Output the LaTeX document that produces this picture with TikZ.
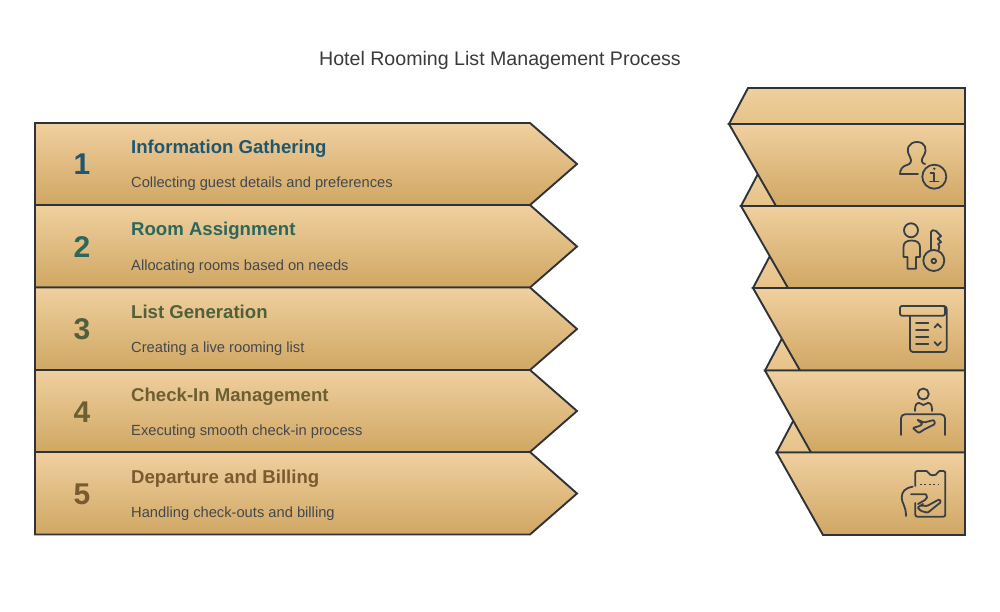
\documentclass[tikz,border=0pt]{standalone}
\usepackage{fontspec}
\setmainfont{Liberation Sans}
\usetikzlibrary{positioning}
\definecolor{tanlight}{HTML}{F0D09F}
\definecolor{tandark}{HTML}{D0A763}
\definecolor{backlight}{HTML}{EFCF9E}
\definecolor{backdark}{HTML}{E6C288}
\definecolor{edgeink}{HTML}{2E3338}
\definecolor{iconink}{HTML}{3A3F45}
\definecolor{textink}{HTML}{45484B}
\definecolor{titleink}{HTML}{3A3A3A}
\definecolor{stepa}{HTML}{20566E}
\definecolor{stepb}{HTML}{2D675C}
\definecolor{stepc}{HTML}{50603B}
\definecolor{stepd}{HTML}{6C6033}
\definecolor{stepe}{HTML}{7A5A30}
\tikzset{
  band/.style={draw=edgeink, line width=1.9pt, line join=miter, top color=tanlight, bottom color=tandark},
  backband/.style={draw=edgeink, line width=1.9pt, line join=miter, top color=backlight, bottom color=backdark},
  icon/.style={draw=iconink, line width=1.8pt, line join=round, line cap=round},
  numlabel/.style={inner sep=0pt, font=\bfseries\fontsize{30}{34}\selectfont},
  headlabel/.style={inner sep=0pt, anchor=west, text height=13pt, text depth=4pt, font=\bfseries\fontsize{18.6}{22}\selectfont},
  desclabel/.style={inner sep=0pt, anchor=west, text height=11pt, text depth=3pt, text=textink, font=\fontsize{14.7}{18}\selectfont}
}
\begin{document}
\begin{tikzpicture}[x=1pt,y=-1pt]
    \useasboundingbox (0,0) rectangle (1000,612);

    \node (title) [inner sep=0pt, text=titleink, font=\fontsize{19.6}{24}\selectfont] at (500,60.5) {Hotel Rooming List Management Process};

    % left column
    \draw[band] (35,123) -- (530,123) -- (577,164) -- (530,205) -- (35,205) -- cycle;
    \draw[band] (35,205) -- (530,205) -- (577,246.5) -- (530,287.5) -- (35,287.5) -- cycle;
    \draw[band] (35,287.5) -- (530,287.5) -- (577,329) -- (530,370) -- (35,370) -- cycle;
    \draw[band] (35,370) -- (530,370) -- (577,411) -- (530,452) -- (35,452) -- cycle;
    \draw[band] (35,452) -- (530,452) -- (577,493.5) -- (530,534.5) -- (35,534.5) -- cycle;

    \node (num1) [numlabel, text=stepa] at (82,164.5) {1};
    \node (num2) [numlabel, text=stepb] at (82,247) {2};
    \node (num3) [numlabel, text=stepc] at (82,329.5) {3};
    \node (num4) [numlabel, text=stepd] at (82,412) {4};
    \node (num5) [numlabel, text=stepe] at (82,494.5) {5};

    \node (head1) [headlabel, text=stepa] at (131,149) {Information Gathering};
    \node (head2) [headlabel, text=stepb] at (131,231.5) {Room Assignment};
    \node (head3) [headlabel, text=stepc] at (131,314) {List Generation};
    \node (head4) [headlabel, text=stepd] at (131,396.5) {Check-In Management};
    \node (head5) [headlabel, text=stepe] at (131,479) {Departure and Billing};

    \node (desc1) [desclabel, below=34.5pt of head1.west, anchor=west] {Collecting guest details and preferences};
    \node (desc2) [desclabel, below=34.5pt of head2.west, anchor=west] {Allocating rooms based on needs};
    \node (desc3) [desclabel, below=34.5pt of head3.west, anchor=west] {Creating a live rooming list};
    \node (desc4) [desclabel, below=34.5pt of head4.west, anchor=west] {Executing smooth check-in process};
    \node (desc5) [desclabel, below=34.5pt of head5.west, anchor=west] {Handling check-outs and billing};

    % right column, back pieces first
    \draw[backband] (729,124) -- (748,88) -- (965,88) -- (965,124) -- cycle;
    \draw[backband] (741,206) -- (760,170) -- (965,170) -- (965,206) -- cycle;
    \draw[backband] (753,288) -- (772,252) -- (965,252) -- (965,288) -- cycle;
    \draw[backband] (765,370.5) -- (784,334.5) -- (965,334.5) -- (965,370.5) -- cycle;
    \draw[backband] (776.5,452.5) -- (795.5,416.5) -- (965,416.5) -- (965,452.5) -- cycle;

    \draw[band] (729,124) -- (965,124) -- (965,206) -- (776,206) -- cycle;
    \draw[band] (741,206) -- (965,206) -- (965,288) -- (788,288) -- cycle;
    \draw[band] (753,288) -- (965,288) -- (965,370.5) -- (800,370.5) -- cycle;
    \draw[band] (765,370.5) -- (965,370.5) -- (965,452.5) -- (811,452.5) -- cycle;
    \draw[band] (776.5,452.5) -- (965,452.5) -- (965,535) -- (823,535) -- cycle;

    % guest with info mark
    \draw[icon] (918,174) -- (900,174) .. controls (900,169) and (903,166) .. (907,165) .. controls (911,164) and (912,161) .. (910,157) .. controls (905,149) and (909,142) .. (917,142) .. controls (925,142) and (928,149) .. (923.5,156) .. controls (921,160) and (921,163) .. (925,164);
    \draw[icon] (934.3,176.7) circle (12);
    \draw[icon] (930.5,173) -- (934.3,173) -- (934.3,181.5);
    \draw[icon] (930,181.5) -- (938.5,181.5);
    \fill[iconink] (934.3,168.7) circle (1.3);

    % guest with key
    \draw[icon] (911,230.3) circle (7);
    \draw[icon] (907.5,257) -- (903.5,257) -- (903.5,247) .. controls (903.5,243) and (906,240.5) .. (911.5,240.5) .. controls (917,240.5) and (920,243) .. (920,247) -- (920,257) -- (916,257) -- (916,268.7) -- (907.5,268.7) -- cycle;
    \draw[icon] (931,250) -- (931,232) .. controls (931,230) and (934,229.5) .. (936,231) -- (941,236) -- (937.7,238.7) -- (941,242) -- (938,244) -- (939.3,246) -- (938.5,250.5);
    \draw[icon] (933.8,260.5) circle (10.5);
    \draw[icon] (933.8,261) circle (2.3);

    % list with sort marks
    \draw[icon, rounded corners=2pt] (900,306) rectangle (945,315.7);
    \draw[icon, rounded corners=3pt] (910,315.7) -- (910,352) -- (946.7,352) -- (946.7,306) -- (940,306);
    \draw[icon] (916,323.3) -- (928.3,323.3);
    \draw[icon] (916,330) -- (928.3,330);
    \draw[icon] (916,336.7) -- (928.3,336.7);
    \draw[icon] (916,344) -- (928.3,344);
    \draw[icon] (934.5,327.5) -- (937.7,324) -- (941,327.5);
    \draw[icon] (934.5,342) -- (937.7,345.5) -- (941,342);

    % reception desk
    \draw[icon] (923.3,394) circle (5.5);
    \draw[icon] (915,411) .. controls (915,405) and (916,403) .. (919,403) .. controls (921,403) and (922,405) .. (923.3,405) .. controls (925,405) and (926,403) .. (928,403) .. controls (931,403) and (932,405) .. (932,411);
    \draw[icon, rounded corners=4pt] (901,435) -- (901,414.3) -- (945,414.3) -- (945,435);
    \draw[icon, rounded corners=1pt] (917,419.5) -- (924,422.5) -- (934,420) -- (935,424) -- (925,429) -- (918.7,433) -- (912.7,428) -- (919.5,426) -- (922.5,424) -- cycle;

    % ticket held in hand
    \draw[icon, rounded corners=2pt] (915.3,486) -- (915.3,471) -- (928.5,471) .. controls (929,476) and (937,476) .. (937.5,471) -- (945.3,471) -- (945.3,516.7) -- (915.3,516.7) -- (915.3,503);
    \draw[icon, dash pattern=on 1.8pt off 2.6pt, line cap=butt] (920,484.5) -- (940,484.5);
    \draw[icon] (912.7,486.7) .. controls (905,488) and (901.7,491.5) .. (901.7,497.7) .. controls (901.7,503) and (906,506) .. (906,516);
    \draw[icon] (911,494.3) -- (926,494.3) .. controls (928,496) and (927,499) .. (925,500) -- (918,504);
    \draw[icon, rounded corners=1pt] (920,505.5) -- (927,506) -- (939.3,499.3) -- (941,502) -- (927.7,512.7) -- (921,511) -- (917.5,507.5) -- (923,504);
\end{tikzpicture}
\end{document}
